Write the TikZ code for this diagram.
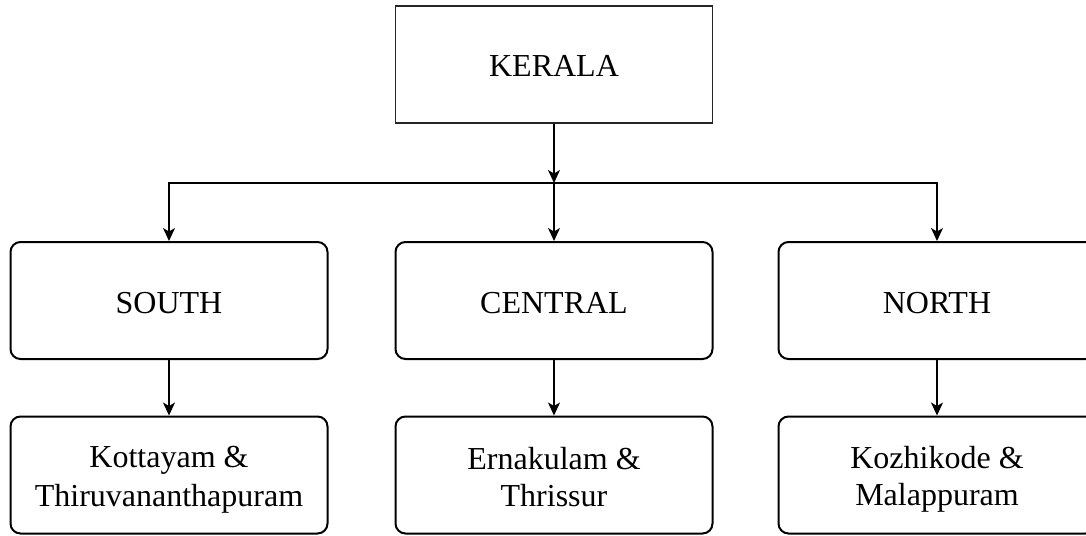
\documentclass[tikz,border=0pt]{standalone}
\usepackage{fontspec}
\setmainfont{Liberation Serif}
\usetikzlibrary{arrows.meta}
% invisible strut giving every text line the same height and depth
\newcommand{\linestrut}{\rule[-6pt]{0pt}{37pt}}
\begin{document}
\begin{tikzpicture}[x=1pt,y=-1pt,
  txt/.style={font=\fontsize{32}{37}\selectfont, align=center, inner sep=0pt},
  topbox/.style={txt, draw=black!85, line width=1.2pt, minimum width=317pt, minimum height=117pt},
  regionbox/.style={txt, draw=black, line width=2pt, rounded corners=10pt, minimum width=317pt, minimum height=117pt},
  arr/.style={draw=black, line width=1.2pt, -{Stealth[length=13pt, width=12pt, inset=3.5pt]}}
]
\useasboundingbox (0,0) rectangle (1086,535);

% state
\node[topbox] (kerala) at (554,64.5) {KERALA\linestrut};

% regions
\node[regionbox] (south)   at (169,300.5) {SOUTH\linestrut};
\node[regionbox] (central) at (554,300.5) {CENTRAL\linestrut};
\node[regionbox] (north)   at (937,300.5) {NORTH\linestrut};

% districts
\node[regionbox] (dsouth)   at (169,475) {Kottayam \&\linestrut\\Thiruvananthapuram\linestrut};
\node[regionbox] (dcentral) at (554,475) {Ernakulam \&\linestrut\\Thrissur\linestrut};
\node[regionbox] (dnorth)   at (937,475) {Kozhikode \&\linestrut\\Malappuram\linestrut};

% branching connectors
\coordinate (junction) at (554,183);
\draw[arr] (kerala.south) -- (junction);
\draw[arr] (junction) -| (south.north);
\draw[arr] (junction) -- (central.north);
\draw[arr] (junction) -| (north.north);

% region to district connectors
\draw[arr] (south.south) -- (dsouth.north);
\draw[arr] (central.south) -- (dcentral.north);
\draw[arr] (north.south) -- (dnorth.north);
\end{tikzpicture}
\end{document}
